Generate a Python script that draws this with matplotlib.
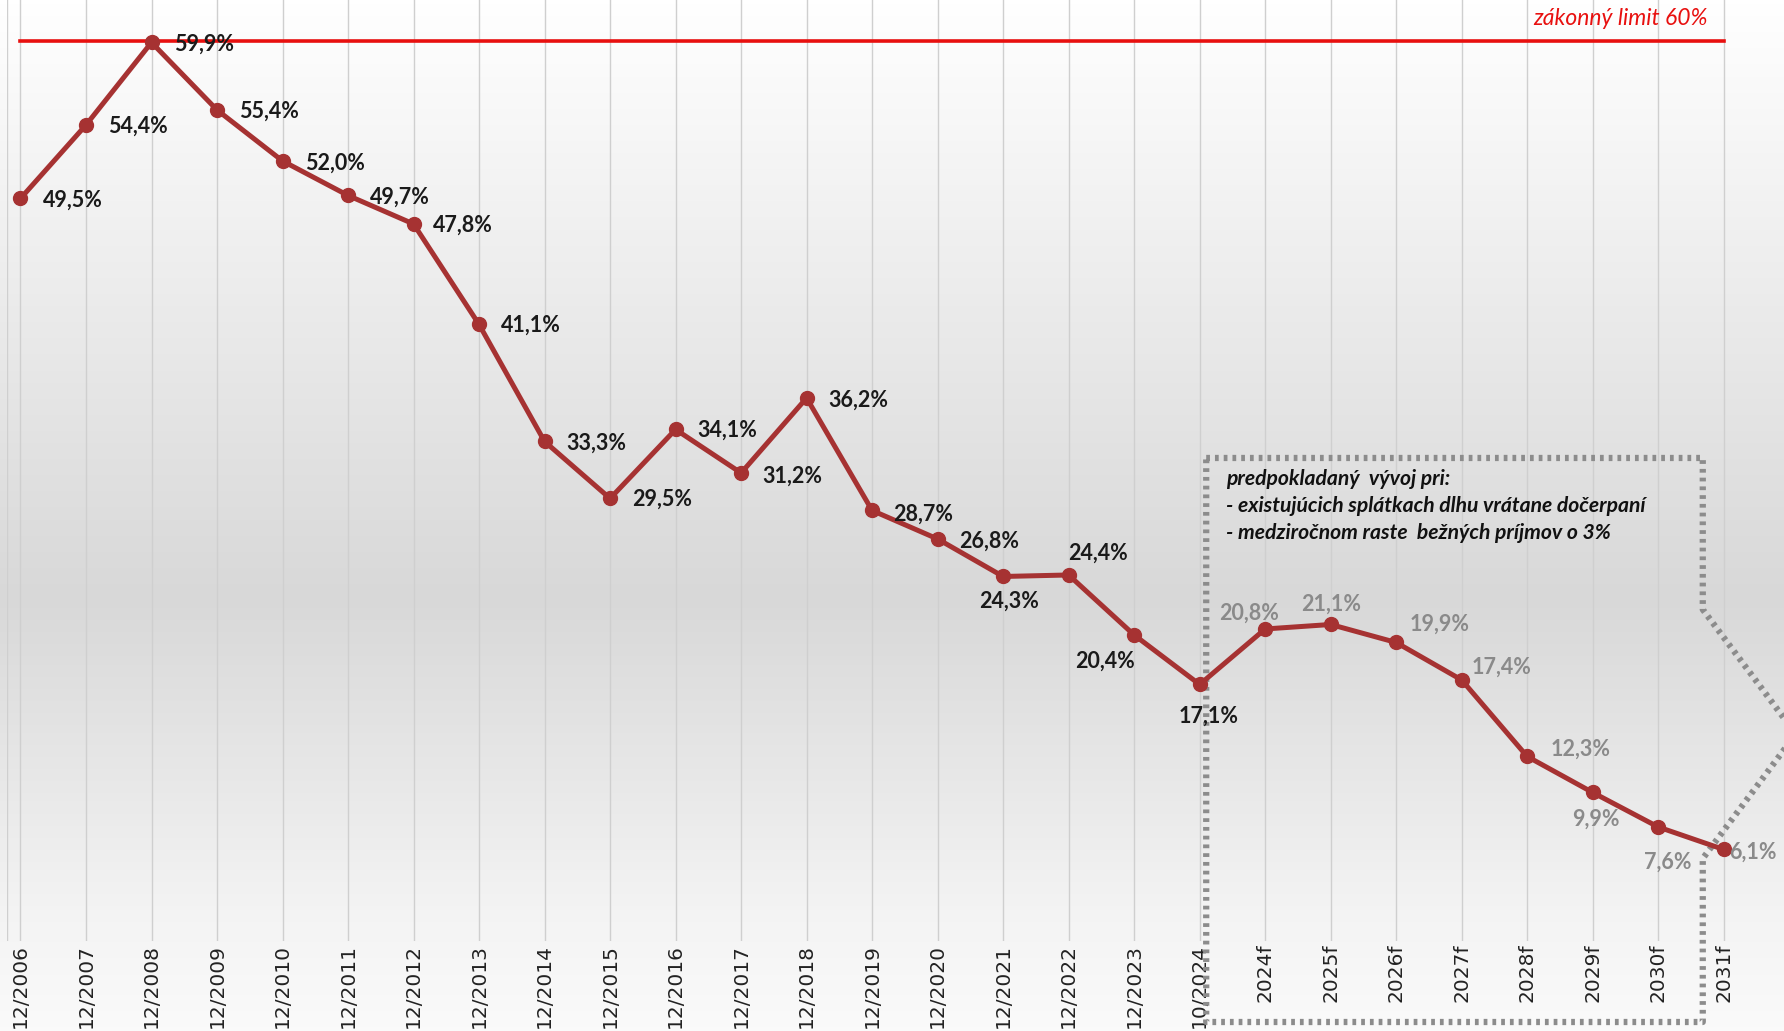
import matplotlib
matplotlib.use("Agg")
import matplotlib.pyplot as plt
import numpy as np
from matplotlib.colors import LinearSegmentedColormap

# Data
labels = ["12/2006", "12/2007", "12/2008", "12/2009", "12/2010", "12/2011",
          "12/2012", "12/2013", "12/2014", "12/2015", "12/2016", "12/2017",
          "12/2018", "12/2019", "12/2020", "12/2021", "12/2022", "12/2023",
          "10/2024", "2024f", "2025f", "2026f", "2027f", "2028f", "2029f",
          "2030f", "2031f"]
values = [49.5, 54.4, 59.9, 55.4, 52.0, 49.7, 47.8, 41.1, 33.3, 29.5, 34.1,
          31.2, 36.2, 28.7, 26.8, 24.3, 24.4, 20.4, 17.1, 20.8, 21.1, 19.9,
          17.4, 12.3, 9.9, 7.6, 6.1]
first_forecast = 19
limit = 60
limit_text = "zákonný limit 60%"
note_lines = ["predpokladaný  vývoj pri:",
              "- existujúcich splátkach dlhu vrátane dočerpaní",
              "- medziročnom raste  bežných príjmov o 3%"]

# label placement (offset points, ha)
offsets = [(16, -1.6, "left"), (15.6, -0.8, "left"), (16, -1.6, "left"),
           (16, -0.8, "left"), (16, -1.6, "left"), (16, -1.6, "left"),
           (14, -0.8, "left"), (15.6, -0.8, "left"), (15.6, -1.6, "left"),
           (15.6, -0.8, "left"), (16, -0.8, "left"), (15.6, -2.4, "left"),
           (16, -1.6, "left"), (14.8, -2.4, "left"), (15.6, -1.6, "left"),
           (4, -18, "center"), (21, 15.6, "center"), (-21, -19, "center"),
           (6.5, -23, "center"), (-11.5, 11.5, "center"), (0, 14.8, "center"),
           (31, 13, "center"), (7.4, 9, "left"), (17, 5, "left"),
           (2.5, -19, "center"), (6.5, -25, "center"), (4, -1.6, "left")]

W, H = 1784, 1031
fig = plt.figure(figsize=(W / 100, H / 100), dpi=100)

# Hintergrund
bg = fig.add_axes([0, 0, 1, 1])
grad_cmap = LinearSegmentedColormap.from_list(
    "bg", [(0, "#ffffff"), (0.58, "#d8d8d8"), (0.88, "#f3f3f3"), (1, "#fafafa")])
bg.imshow(np.linspace(0, 1, 256).reshape(-1, 1), cmap=grad_cmap,
          aspect="auto", extent=[0, 1, 0, 1])
bg.axis("off")

ax = fig.add_axes([7 / W, (H - 941) / H, 1 - 7 / W, 941 / H])
ax.patch.set_alpha(0)
x = np.arange(len(values))
ax.set_xlim(-0.206, 26.92)
ax.set_ylim(0, 62.73)

# vertical grid
for xi in x:
    ax.axvline(xi, color="#cfcfcf", lw=1, zorder=1)
ax.axvline(-0.206, color="#cfcfcf", lw=1, zorder=1)

# limit line
ax.plot([x[0], x[-1]], [limit, limit], color="#e8100f", lw=2.6, zorder=2)
ax.text(25.75, 61.5, limit_text, color="#e8100f", fontsize=16.5,
        style="italic", family=["Lato", "DejaVu Sans"], ha="right", va="center")

# main line
ax.plot(x, values, color="#a63232", lw=3.6, marker="o", ms=10,
        mfc="#a63232", mec="#a63232", zorder=4)

for i, v in enumerate(values):
    dx, dy, ha = offsets[i]
    col = "#1a1a1a" if i < first_forecast else "#8a8a8a"
    ax.annotate(f"{v:.1f}%".replace(".", ","), (x[i], v),
                xytext=(dx, dy), textcoords="offset points", ha=ha,
                va="center", fontsize=15.5, fontweight="bold", color=col,
                family=["Lato", "DejaVu Sans"], zorder=5)

# dotted forecast frame
fx = [18.1, 25.68, 25.68, 27.1, 25.68, 25.68, 18.1, 18.1]
fy = [32.2, 32.2, 22.1, 13.8, 5.5, -5.4, -5.4, 32.2]
ax.plot(fx, fy, color="#8c8c8c", lw=4.5, ls=(0, (0.6, 0.8)),
        dash_capstyle="butt", clip_on=False, zorder=3)

for j, line in enumerate(note_lines):
    ax.text(18.4, 30.8 - j * 1.8, line, fontsize=15.2, fontweight="bold",
            style="italic", family=["Lato", "DejaVu Sans"], color="#111111",
            ha="left", va="center")

ax.set_xticks(x)
ax.set_xticklabels(labels, rotation=90, va="top", ha="center", fontsize=14.5,
                   family=["Liberation Sans Narrow", "DejaVu Sans"],
                   color="#222222")
ax.tick_params(axis="x", length=0, pad=2)
ax.set_yticks([])
for s in ax.spines.values():
    s.set_visible(False)

fig.savefig("out.png", dpi=100)
